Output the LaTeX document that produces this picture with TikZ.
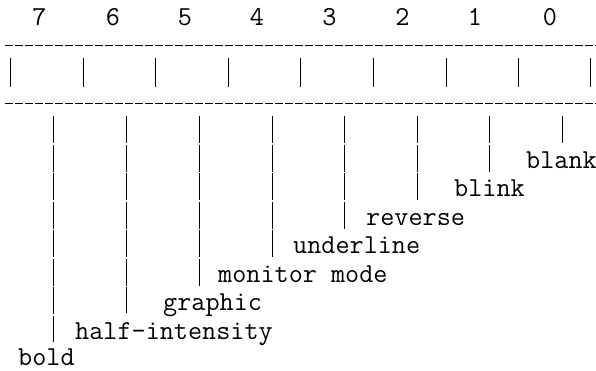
\documentclass[tikz,border=0pt]{standalone}
\usepackage{fontspec}
\begin{document}
\begin{tikzpicture}[x=1pt,y=-1pt,
  lbl/.style={font=\fontsize{27.4}{30}\selectfont\ttfamily, inner sep=0pt, anchor=base west},
  digit/.style={font=\fontsize{27.4}{30}\selectfont\ttfamily, inner sep=0pt, anchor=base},
  rulerline/.style={line width=1pt, dash pattern=on 7.5pt off 2.5pt},
  tickline/.style={line width=1pt},
  leadline/.style={line width=1pt, dash pattern=on 27pt off 1.5pt}]
\useasboundingbox (0,0) rectangle (596,370);
% bit numbers
\node[digit] (d7) at (39.5,25) {7};
\node[digit] (d6) at (113,25) {6};
\node[digit] (d5) at (185,25) {5};
\node[digit] (d4) at (257,25) {4};
\node[digit] (d3) at (329.5,25) {3};
\node[digit] (d2) at (402.5,25) {2};
\node[digit] (d1) at (475,25) {1};
\node[digit] (d0) at (550,25) {0};
% dashed rulers
\coordinate (ra) at (5,45);
\coordinate (rb) at (596,45);
\coordinate (rc) at (5,103);
\coordinate (rd) at (596,103);
\draw[rulerline] (ra) -- (rb);
\draw[rulerline] (rc) -- (rd);
% ticks
\foreach \i/\x in {0/10,1/83,2/155,3/228,4/300,5/373,6/446,7/518,8/590}{
  \coordinate (ta\i) at (\x,58);
  \coordinate (tb\i) at (\x,87);
  \draw[tickline] (ta\i) -- (tb\i);
}
% labels
\node[lbl] (l0) at (526,168) {blank};
\node[lbl] (l1) at (454,196) {blink};
\node[lbl] (l2) at (366,225) {reverse};
\node[lbl] (l3) at (293,253) {underline};
\node[lbl] (l4) at (218,282) {monitor mode};
\node[lbl] (l5) at (163,310) {graphic};
\node[lbl] (l6) at (75,339) {half-intensity};
\node[lbl] (l7) at (18,365) {bold};
% leaders
\foreach \i/\x/\e in {0/562/143,1/489/173,2/417/201,3/344/230,4/272/258,5/199/287,6/126/313,7/53/342}{
  \coordinate (s\i) at (\x,116);
  \coordinate (e\i) at (\x,\e);
  \draw[leadline] (s\i) -- (e\i);
}
\end{tikzpicture}
\end{document}
